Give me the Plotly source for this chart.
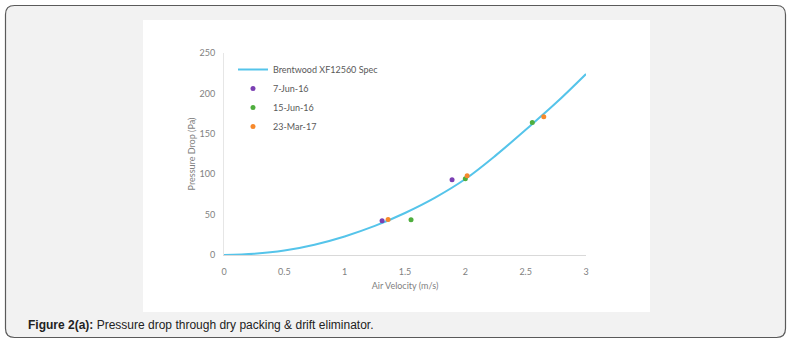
import plotly.graph_objects as go

# ---- data ----
spec_velocity = [0, 0.25, 0.5, 0.75, 1.0, 1.25, 1.5, 1.75, 2.0, 2.25, 2.5, 2.75, 3.0]
spec_pressure = [0, 1.5, 5.5, 12.8, 23, 36, 52, 71, 94, 123, 155, 188, 224]

jun7_velocity = [1.31, 1.89]
jun7_pressure = [42.5, 93]
jun15_velocity = [1.55, 2.00, 2.555]
jun15_pressure = [43.5, 94.5, 164]
mar23_velocity = [1.36, 2.015, 2.65]
mar23_pressure = [44, 98, 171]

x_ticks = [0, 0.5, 1, 1.5, 2, 2.5, 3]
x_tick_labels = ["0", "0.5", "1", "1.5", "2", "2.5", "3"]
y_ticks = [0, 50, 100, 150, 200, 250]

W, H = 792, 343
L, R, T, B = 224, 586, 53, 255  # plot area in pixels


def px(x):
    return (x - L) / (R - L)


def py(y):
    return (B - y) / (B - T)


FONT = "Lato"
GRAY = "#7f7f7f"

fig = go.Figure()
fig.add_trace(go.Scatter(x=spec_velocity, y=spec_pressure, mode="lines",
                         line=dict(color="#55c4ea", width=2, shape="spline"),
                         name="Brentwood XF12560 Spec"))
fig.add_trace(go.Scatter(x=jun7_velocity, y=jun7_pressure, mode="markers",
                         marker=dict(color="#7b3fb3", size=5), name="7-Jun-16"))
fig.add_trace(go.Scatter(x=jun15_velocity, y=jun15_pressure, mode="markers",
                         marker=dict(color="#4fae3e", size=5), name="15-Jun-16"))
fig.add_trace(go.Scatter(x=mar23_velocity, y=mar23_pressure, mode="markers",
                         marker=dict(color="#f7892b", size=5), name="23-Mar-17"))

# rounded outer frame
x0, y0, x1, y1, r = 5.5, 5.5, 785.5, 337.5, 9
path = (f"M {px(x0 + r)},{py(y0)} L {px(x1 - r)},{py(y0)} "
        f"Q {px(x1)},{py(y0)} {px(x1)},{py(y0 + r)} "
        f"L {px(x1)},{py(y1 - r)} Q {px(x1)},{py(y1)} {px(x1 - r)},{py(y1)} "
        f"L {px(x0 + r)},{py(y1)} Q {px(x0)},{py(y1)} {px(x0)},{py(y1 - r)} "
        f"L {px(x0)},{py(y0 + r)} Q {px(x0)},{py(y0)} {px(x0 + r)},{py(y0)} Z")

shapes = [
    dict(type="path", path=path, xref="paper", yref="paper", layer="below",
         fillcolor="#f2f2f2", line=dict(color="#5a5a5a", width=1.2)),
    dict(type="rect", xref="paper", yref="paper", layer="below",
         x0=px(143), x1=px(650), y0=py(312), y1=py(20),
         fillcolor="white", line=dict(width=0)),
]

annotations = [
    dict(xref="paper", yref="paper", x=px(26), y=py(325), xanchor="left", yanchor="middle",
         showarrow=False, align="left",
         text="<b>Figure 2(a):</b> Pressure drop through dry packing &amp; drift eliminator.",
         font=dict(family="Liberation Sans, Arial", size=12, color="#222222")),
]

fig.update_layout(
    width=W, height=H,
    margin=dict(l=L, r=W - R, t=T, b=H - B, pad=0),
    paper_bgcolor="white", plot_bgcolor="rgba(0,0,0,0)",
    font=dict(family=FONT, size=9, color=GRAY),
    showlegend=True,
    legend=dict(x=px(233), y=py(55), xanchor="left", yanchor="top",
                bgcolor="rgba(0,0,0,0)", font=dict(family=FONT, size=9, color="#595959"),
                itemwidth=30, tracegroupgap=0),
    shapes=shapes, annotations=annotations,
    xaxis=dict(range=[0, 3], tickvals=x_ticks, ticktext=x_tick_labels,
               showgrid=False, zeroline=False, showline=True, linecolor="#d9d9d9",
               linewidth=1, ticks="", ticklabelstandoff=8,
               tickfont=dict(family=FONT, size=9, color=GRAY),
               title=dict(text="Air Velocity (m/s)", standoff=6,
                          font=dict(family=FONT, size=9, color=GRAY))),
    yaxis=dict(range=[0, 250], tickvals=y_ticks,
               showgrid=False, zeroline=False, showline=True, linecolor="#e6e6e6",
               linewidth=1, ticks="", ticklabelstandoff=6,
               tickfont=dict(family=FONT, size=9, color=GRAY),
               title=dict(text="Pressure Drop (Pa)", standoff=2,
                          font=dict(family=FONT, size=9, color=GRAY))),
)

fig.write_html("out.html")
